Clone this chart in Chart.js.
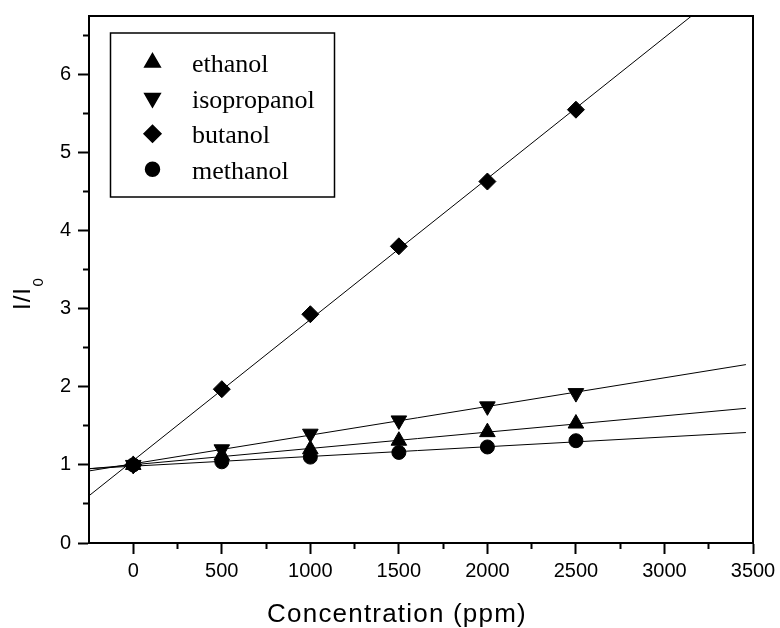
<!DOCTYPE html>
<html>
<head>
<meta charset="utf-8">
<script src="https://cdn.jsdelivr.net/npm/chart.js@4/dist/chart.umd.min.js"></script>
<style>
html,body{margin:0;padding:0;background:#fff;}
#wrap{width:780px;height:628px;position:relative;}
</style>
</head>
<body>
<div id="wrap"><canvas id="c" width="780" height="628"></canvas></div>
<script>
// ---- data ----
const concentrations = [0, 500, 1000, 1500, 2000, 2500];
const ethanol     = [1.00, 1.12, 1.20, 1.31, 1.42, 1.53];
const isopropanol = [1.00, 1.20, 1.40, 1.57, 1.75, 1.92];
const butanol     = [1.00, 1.97, 2.93, 3.80, 4.63, 5.55];
const methanol    = [1.00, 1.04, 1.10, 1.16, 1.23, 1.31];

// straight fit lines: end points
const fitX           = [-250, 3460];
const ethanolFit     = [0.950, 1.725];
const isopropanolFit = [0.923, 2.285];
const butanolFit     = [0.605, 7.305];
const methanolFit    = [0.953, 1.415];

const xTickValues      = [0, 500, 1000, 1500, 2000, 2500, 3000, 3500];
const xMinorTickValues = [250, 750, 1250, 1750, 2250, 2750, 3250];
const yTickValues      = [0, 1, 2, 3, 4, 5, 6];
const yMinorTickValues = [0.5, 1.5, 2.5, 3.5, 4.5, 5.5, 6.5];

const seriesNames = ['ethanol', 'isopropanol', 'butanol', 'methanol'];
const xTitle = 'Concentration (ppm)';

// ---- build datasets ----
const pts = ys => concentrations.map((x, i) => ({x: x, y: ys[i]}));
const line = ys => fitX.map((x, i) => ({x: x, y: ys[i]}));

function markerDs(label, ys, style, radius, rotation) {
  return {
    label: label, data: pts(ys), showLine: false,
    pointStyle: style, pointRadius: radius, pointHoverRadius: radius,
    pointRotation: rotation || 0,
    backgroundColor: '#000', borderColor: '#000', pointBorderWidth: 1, order: 1
  };
}
function fitDs(ys) {
  return {
    label: '', data: line(ys), showLine: true, pointRadius: 0,
    borderColor: '#000', borderWidth: 1, backgroundColor: '#000', order: 2
  };
}

const markerSets = [
  markerDs(seriesNames[0], ethanol, 'triangle', 9, 0),
  markerDs(seriesNames[1], isopropanol, 'triangle', 9, 180),
  markerDs(seriesNames[2], butanol, 'rectRot', 8.5, 0),
  markerDs(seriesNames[3], methanol, 'circle', 7, 0)
];

const datasets = [
  fitDs(butanolFit), fitDs(isopropanolFit), fitDs(ethanolFit), fitDs(methanolFit)
].concat(markerSets);

const SANS = 'Liberation Sans';
const SERIF = 'Liberation Serif';

// ---- custom in-plot legend and axis titles ----
const legendPlugin = {
  id: 'boxLegend',
  afterDraw(chart) {
    const ctx = chart.ctx;
    ctx.save();
    ctx.strokeStyle = '#000';
    ctx.lineWidth = 1.5;
    ctx.strokeRect(110.5, 33, 224, 164);
    ctx.fillStyle = '#000';
    ctx.font = '26px "' + SERIF + '"';
    ctx.textAlign = 'left';
    ctx.textBaseline = 'alphabetic';
    markerSets.forEach((ds, i) => {
      const base = 72 + i * 35.6;
      const my = base - 9.5;
      ctx.fillStyle = '#000';
      ctx.strokeStyle = '#000';
      const opts = {pointStyle: ds.pointStyle, radius: ds.pointRadius, rotation: ds.pointRotation, borderWidth: 1};
      if (Chart.helpers && Chart.helpers.drawPoint) {
        Chart.helpers.drawPoint(ctx, opts, 152.5, my);
      }
      ctx.fillStyle = '#000';
      ctx.fillText(ds.label, 192, base);
    });
    ctx.restore();

    // x axis title
    ctx.save();
    ctx.fillStyle = '#000';
    ctx.font = '26px "' + SANS + '"';
    if ('letterSpacing' in ctx) ctx.letterSpacing = '1.2px';
    ctx.textAlign = 'center';
    ctx.textBaseline = 'alphabetic';
    ctx.fillText(xTitle, 397, 621.5);
    ctx.restore();

    // y axis title I/I0
    ctx.save();
    ctx.fillStyle = '#000';
    ctx.translate(30, 310);
    ctx.rotate(-Math.PI / 2);
    ctx.font = '24px "' + SANS + '"';
    if ('letterSpacing' in ctx) ctx.letterSpacing = '1px';
    ctx.textAlign = 'left';
    ctx.textBaseline = 'alphabetic';
    ctx.fillText('I/I', 0, 0);
    const w = ctx.measureText('I/I').width;
    ctx.font = '15px "' + SANS + '"';
    ctx.fillText('0', w + 0.5, 13);
    ctx.restore();
  }
};

const tickFont = {family: SANS, size: 20};
const noPad = s => { s.paddingTop = 0; s.paddingBottom = 0; s.paddingLeft = 0; s.paddingRight = 0; };

new Chart(document.getElementById('c'), {
  type: 'scatter',
  data: {datasets: datasets},
  plugins: [legendPlugin],
  options: {
    responsive: false,
    animation: false,
    devicePixelRatio: 1,
    layout: {padding: {left: 0, right: 27, top: 16, bottom: 0}},
    plugins: {legend: {display: false}, tooltip: {enabled: false}, title: {display: false}},
    scales: {
      x: {
        type: 'linear', axis: 'x', position: 'bottom', min: -250, max: 3500, weight: 1,
        afterBuildTicks: s => { s.ticks = xTickValues.map(v => ({value: v})); },
        ticks: {font: tickFont, color: '#000', padding: 5, maxRotation: 0, autoSkip: false,
                callback: v => String(v)},
        grid: {display: true, drawOnChartArea: false, drawTicks: true, tickLength: 11, tickWidth: 2, tickColor: '#000'},
        border: {display: true, color: '#000', width: 2},
        title: {display: false},
        afterFit: s => { s.height = 85; noPad(s); }
      },
      x2: {
        type: 'linear', axis: 'x', position: 'bottom', min: -250, max: 3500, weight: 0,
        afterBuildTicks: s => { s.ticks = xMinorTickValues.map(v => ({value: v})); },
        ticks: {display: false},
        grid: {display: true, drawOnChartArea: false, drawTicks: true, tickLength: 6, tickWidth: 2, tickColor: '#000'},
        border: {display: false},
        afterFit: s => { s.height = 0; noPad(s); }
      },
      xTop: {
        type: 'linear', axis: 'x', position: 'top', min: -250, max: 3500,
        ticks: {display: false},
        grid: {display: true, drawOnChartArea: false, drawTicks: false},
        border: {display: true, color: '#000', width: 2},
        afterFit: s => { s.height = 0; noPad(s); }
      },
      y: {
        type: 'linear', axis: 'y', position: 'left', min: 0, max: 6.75, weight: 1,
        afterBuildTicks: s => { s.ticks = yTickValues.map(v => ({value: v})); },
        ticks: {font: tickFont, color: '#000', padding: 7, autoSkip: false, callback: v => String(v)},
        grid: {display: true, drawOnChartArea: false, drawTicks: true, tickLength: 11, tickWidth: 2, tickColor: '#000'},
        border: {display: true, color: '#000', width: 2},
        afterFit: s => { s.width = 89; noPad(s); }
      },
      y2: {
        type: 'linear', axis: 'y', position: 'left', min: 0, max: 6.75, weight: 0,
        afterBuildTicks: s => { s.ticks = yMinorTickValues.map(v => ({value: v})); },
        ticks: {display: false},
        grid: {display: true, drawOnChartArea: false, drawTicks: true, tickLength: 6, tickWidth: 2, tickColor: '#000'},
        border: {display: false},
        afterFit: s => { s.width = 0; noPad(s); }
      },
      yRight: {
        type: 'linear', axis: 'y', position: 'right', min: 0, max: 6.75,
        ticks: {display: false},
        grid: {display: true, drawOnChartArea: false, drawTicks: false},
        border: {display: true, color: '#000', width: 2},
        afterFit: s => { s.width = 0; noPad(s); }
      }
    }
  }
});
</script>
</body>
</html>
